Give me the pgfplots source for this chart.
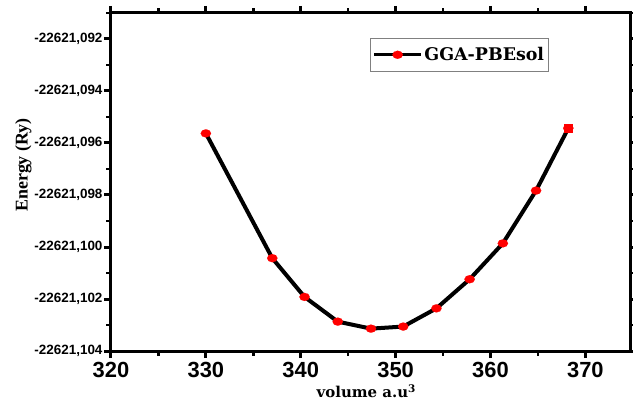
\documentclass[border=0pt]{standalone}
\usepackage{fontspec}
\setmainfont{DejaVu Serif}
\setsansfont{Liberation Sans}
\newfontfamily\timesf{Liberation Serif}
\usepackage{pgfplots}
\pgfplotsset{compat=1.18}
% Energies stored as E + 22621 (Ry), so that the small differences keep their precision
\begin{document}
\begin{tikzpicture}
\begin{axis}[
  scale only axis,
  width=519bp, height=338bp,
  xmin=320, xmax=374.7,
  ymin=-0.104, ymax=-0.0910,
  xtick={320,330,...,370},
  minor xtick={325,335,...,375},
  ytick={-0.104,-0.102,-0.100,-0.098,-0.096,-0.094,-0.092},
  yticklabels={{-22621,104},{-22621,102},{-22621,100},{-22621,098},{-22621,096},{-22621,094},{-22621,092}},
  minor ytick={-0.103,-0.101,-0.099,-0.097,-0.095,-0.093,-0.091},
  /pgf/number format/assume math mode=true,
  tick align=outside,
  major tick length=7bp,
  minor tick length=4.5bp,
  axis line style={line width=3bp},
  every tick/.style={line width=3bp, black},
  every minor tick/.style={line width=2.5bp, black},
  x tick label style={font=\fontsize{22}{22}\selectfont\sffamily\bfseries, yshift=-1bp},
  y tick label style={font=\fontsize{13.5}{14}\selectfont\sffamily\bfseries, xshift=2bp},
  xlabel={volume a.u\textsuperscript{3}},
  xlabel style={font=\fontsize{15}{15}\selectfont\bfseries, at={(axis description cs:0.492,-0.12)}, anchor=center},
  ylabel={Energy (Ry)},
  ylabel style={font=\fontsize{18}{18}\selectfont\timesf\bfseries, at={(axis description cs:-0.169,0.55)}, anchor=center},
  legend style={at={(0.5,0.926)}, anchor=north west, draw=gray, line width=0.8bp,
    font=\fontsize{17.5}{18}\selectfont\bfseries, inner xsep=2bp, inner ysep=7bp},
  legend cell align=left,
  legend image code/.code={\draw[mark repeat=2,mark phase=2,line width=3bp] plot coordinates {(0cm,0cm) (0.82cm,0cm) (1.64cm,0cm)};},
  clip=false,
]
\addplot[line width=4bp, black, mark=*, mark size=4.5bp,
  mark options={fill=red, draw=red, xscale=1.15, yscale=0.9, line width=0.1bp}]
  table[row sep=\\]{
  x y \\
  330.0 -0.09563 \\
  337.0 -0.10043 \\
  340.4 -0.10192 \\
  343.9 -0.10287 \\
  347.4 -0.10314 \\
  350.8 -0.10306 \\
  354.3 -0.10236 \\
  357.8 -0.10124 \\
  361.3 -0.09986 \\
  364.8 -0.09783 \\
  368.2 -0.09543 \\
};
\addlegendentry{GGA-PBEsol}
\addplot[only marks, mark=square*, mark size=4bp, mark options={fill=red, draw=red, line width=0.1bp}, forget plot]
  table[row sep=\\]{
  x y \\
  368.2 -0.09543 \\
};
\coordinate (sw) at (rel axis cs:0,0);
\end{axis}
\pgfresetboundingbox
\path (sw) ++(-111bp,-57bp) rectangle ++(633bp,408bp);
\end{tikzpicture}
\end{document}
